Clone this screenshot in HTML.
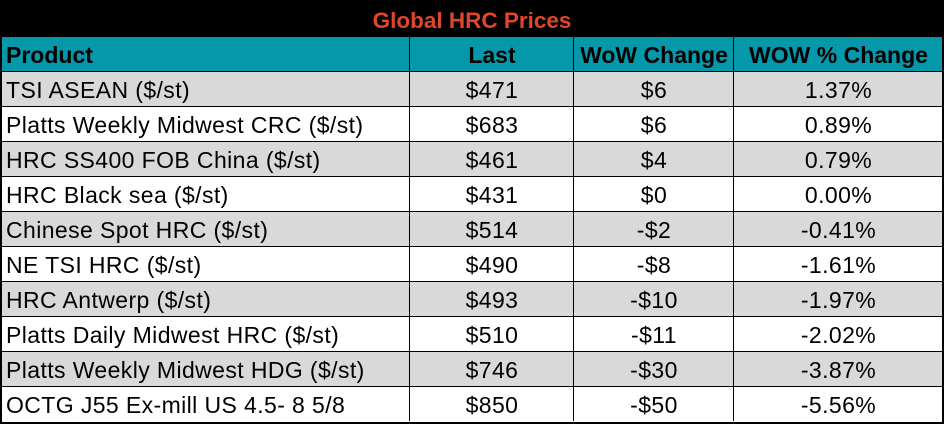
<!DOCTYPE html>
<html><head><style>
body{margin:0;width:944px;height:424px;background:#fff;overflow:hidden;font-family:"Liberation Sans",sans-serif}
#w{position:absolute;left:0;top:0;width:940px;height:420px;border:2px solid #000;}
.t{position:absolute;left:0;top:0;width:940px;height:35px;background:#000;color:#e0462a;font-weight:bold;font-size:22.5px;text-align:center;line-height:38px}
.r{position:absolute;left:0;width:940px;height:34px;border-bottom:1px solid #000;font-size:23px;line-height:36px;color:#000;letter-spacing:0.4px}
.r div{position:absolute;top:0;height:34px;text-align:center}
.c0{left:0;width:406px;text-align:left!important;padding-left:4px}
.c1{left:407px;width:164px;border-left:1px solid #000}
.c2{left:571px;width:160px;border-left:1px solid #000}
.c3{left:731px;width:209px;border-left:1px solid #000}
.h{background:#0597aa;font-weight:bold;top:35px;letter-spacing:0}
.g{background:#d9d9d9}
</style></head><body><div id="w">
<div class="t">Global HRC Prices</div>
<div class="r h"><div class="c0">Product</div><div class="c1">Last</div><div class="c2">WoW Change</div><div class="c3">WOW % Change</div></div>
<div class="r g" style="top:70px"><div class="c0">TSI ASEAN ($/st)</div><div class="c1">$471</div><div class="c2">$6</div><div class="c3">1.37%</div></div>
<div class="r" style="top:105px"><div class="c0">Platts Weekly Midwest CRC ($/st)</div><div class="c1">$683</div><div class="c2">$6</div><div class="c3">0.89%</div></div>
<div class="r g" style="top:140px"><div class="c0">HRC SS400 FOB China ($/st)</div><div class="c1">$461</div><div class="c2">$4</div><div class="c3">0.79%</div></div>
<div class="r" style="top:175px"><div class="c0">HRC Black sea ($/st)</div><div class="c1">$431</div><div class="c2">$0</div><div class="c3">0.00%</div></div>
<div class="r g" style="top:210px"><div class="c0">Chinese Spot HRC ($/st)</div><div class="c1">$514</div><div class="c2">-$2</div><div class="c3">-0.41%</div></div>
<div class="r" style="top:245px"><div class="c0">NE TSI HRC ($/st)</div><div class="c1">$490</div><div class="c2">-$8</div><div class="c3">-1.61%</div></div>
<div class="r g" style="top:280px"><div class="c0">HRC Antwerp ($/st)</div><div class="c1">$493</div><div class="c2">-$10</div><div class="c3">-1.97%</div></div>
<div class="r" style="top:315px"><div class="c0">Platts Daily Midwest HRC ($/st)</div><div class="c1">$510</div><div class="c2">-$11</div><div class="c3">-2.02%</div></div>
<div class="r g" style="top:350px"><div class="c0">Platts Weekly Midwest HDG ($/st)</div><div class="c1">$746</div><div class="c2">-$30</div><div class="c3">-3.87%</div></div>
<div class="r" style="top:385px;border-bottom:none"><div class="c0">OCTG J55 Ex-mill US 4.5- 8 5/8</div><div class="c1">$850</div><div class="c2">-$50</div><div class="c3">-5.56%</div></div>
</div></body></html>
